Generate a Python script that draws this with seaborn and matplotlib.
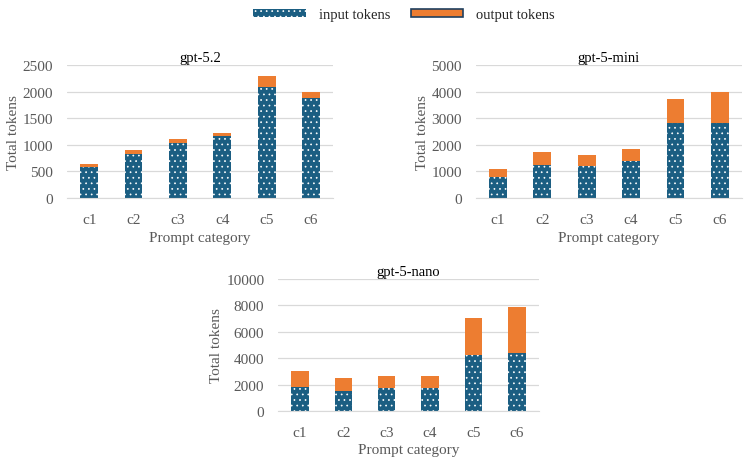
import pandas as pd
import seaborn as sns
import matplotlib.pyplot as plt
from matplotlib.patches import Patch

# ---- Data ----
categories = ["c1", "c2", "c3", "c4", "c5", "c6"]

input_52 = [590, 830, 1035, 1160, 2090, 1870]
output_52 = [50, 75, 68, 62, 195, 113]

input_mini = [790, 1225, 1210, 1390, 2830, 2830]
output_mini = [310, 500, 415, 460, 885, 1135]

input_nano = [1815, 1510, 1765, 1765, 4210, 4360]
output_nano = [1235, 1010, 855, 855, 2795, 3500]

models = ["gpt-5.2", "gpt-5-mini", "gpt-5-nano"]
yticks = [[0, 500, 1000, 1500, 2000, 2500],
          [0, 1000, 2000, 3000, 4000, 5000],
          [0, 2000, 4000, 6000, 8000, 10000]]
legend_labels = ["input tokens", "output tokens"]

BLUE = "#1B5E82"
ORANGE = "#ED7D31"
GRAY = "#595959"

sns.set_style("white")
plt.rcParams["font.family"] = ["Liberation Serif", "DejaVu Serif"]
plt.rcParams["hatch.linewidth"] = 0.5

fig = plt.figure(figsize=(7.48, 4.64), dpi=100)
positions = [[0.0896, 0.571, 0.356, 0.287],
             [0.636, 0.571, 0.356, 0.287],
             [0.372, 0.112, 0.348, 0.285]]
data = [(input_52, output_52), (input_mini, output_mini), (input_nano, output_nano)]

for pos, model, (inp, out), ticks in zip(positions, models, data, yticks):
    ax = fig.add_axes(pos)
    df = pd.DataFrame({"cat": categories, "input": inp, "output": out})
    df["total"] = df["input"] + df["output"]

    ax.grid(axis="y", color="#D9D9D9", lw=0.9)
    ax.set_axisbelow(True)
    # stacked: total (orange) behind, input (dotted blue) in front
    sns.barplot(data=df, x="cat", y="total", color=ORANGE, width=0.4,
                saturation=1, ax=ax, linewidth=0)
    sns.barplot(data=df, x="cat", y="input", color=BLUE, width=0.4,
                saturation=1, ax=ax, linewidth=0, edgecolor="white", hatch="...")

    ax.set_ylim(ticks[0], ticks[-1])
    ax.set_yticks(ticks)
    ax.set_xlim(-0.5, 5.5)
    for s in ["top", "right", "left"]:
        ax.spines[s].set_visible(False)
    ax.spines["bottom"].set_color("#D9D9D9")
    ax.tick_params(length=0, labelsize=11, colors=GRAY)
    ax.tick_params(axis="x", pad=11)
    ax.tick_params(axis="y", pad=10)
    ax.set_title(model, fontsize=10.5, color="black", pad=3)
    ax.set_xlabel("Prompt category", fontsize=11, color=GRAY, labelpad=3)
    ax.set_ylabel("Total tokens", fontsize=11, color=GRAY, labelpad=2)

handles = [Patch(facecolor=BLUE, edgecolor="white", hatch="...", linewidth=0),
           Patch(facecolor=ORANGE, edgecolor="#1F3F5F", linewidth=1.2)]
fig.legend(handles, legend_labels, loc="center", bbox_to_anchor=(0.54, 0.966),
           ncol=2, frameon=False, fontsize=10.5, handlelength=3.6,
           handleheight=0.5, columnspacing=1.4, handletextpad=0.9)

fig.savefig("out.png", dpi=100)
